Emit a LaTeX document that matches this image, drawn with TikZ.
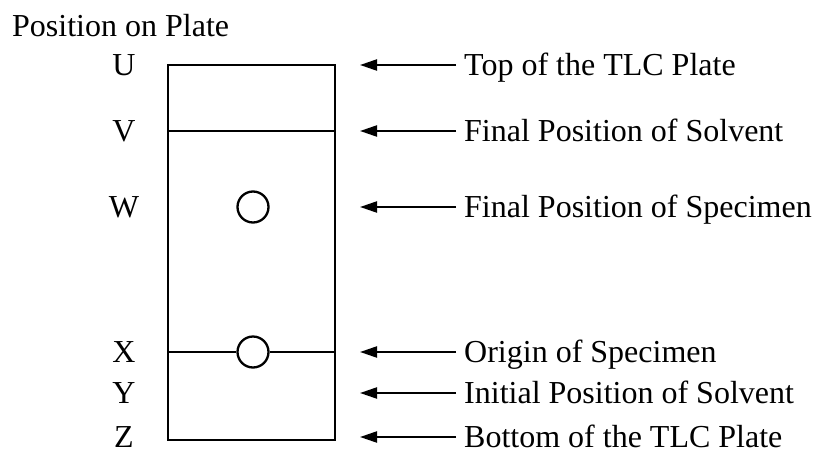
\documentclass[tikz,border=0pt]{standalone}
\usepackage{fontspec}
\setmainfont{Liberation Serif}
\usetikzlibrary{arrows.meta}
\begin{document}
\begin{tikzpicture}[x=1pt,y=-1pt,
  lbl/.style={anchor=base,inner sep=0pt,font=\fontsize{32}{38}\selectfont},
  txt/.style={anchor=base west,inner sep=0pt,font=\fontsize{32}{38}\selectfont},
  plate/.style={line width=2.3pt},
  spot/.style={circle,draw,line width=2.3pt,minimum size=31pt,inner sep=0pt},
  arr/.style={line width=2.2pt,-{Triangle[length=17pt,width=11pt]}}]
\useasboundingbox (0,0) rectangle (822,450);
\node[txt] (title) at (12,36) {Position on Plate};
% plate
\draw[plate] (168,65) rectangle (335,440);
\draw[plate] (168,131) -- (335,131);
\node[spot] (sW) at (253,207) {};
\node[spot] (sX) at (253,352) {};
\coordinate (xl) at (168,352);
\coordinate (xr) at (335,352);
\draw[plate] (xl) -- (sX.west);
\draw[plate] (sX.east) -- (xr);
% left labels
\foreach \n/\y in {U/65,V/131,W/207,X/352,Y/393,Z/437}{
  \node[lbl] (l\n) at (124,\y+10.5) {\n};
}
% right labels and arrows
\foreach \n/\y/\t in {U/65/Top of the TLC Plate,V/131/Final Position of Solvent,W/207/Final Position of Specimen,X/352/Origin of Specimen,Y/393/Initial Position of Solvent,Z/437/Bottom of the TLC Plate}{
  \node[txt] (t\n) at (464,\y+10.5) {\t};
  \coordinate (s\n) at (456,\y);
  \coordinate (e\n) at (360,\y);
  \draw[arr] (s\n) -- (e\n);
}
\end{tikzpicture}
\end{document}
